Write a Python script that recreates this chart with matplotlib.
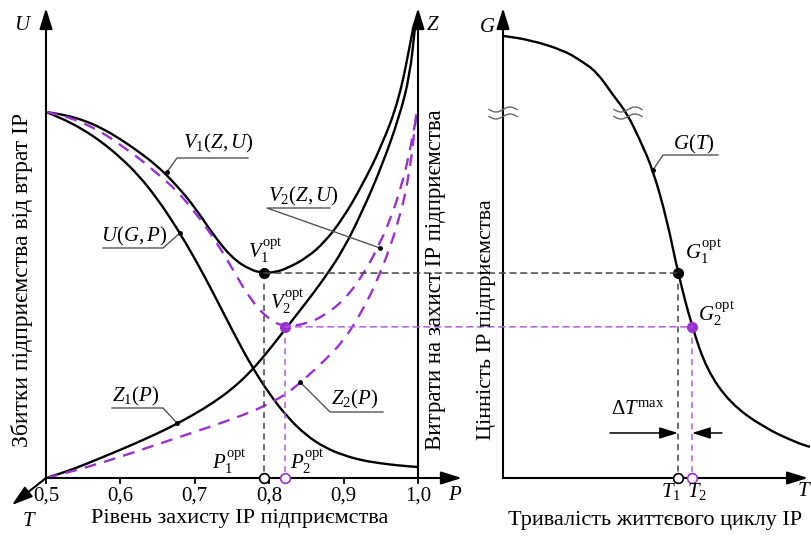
import numpy as np
import matplotlib
matplotlib.use("Agg")
import matplotlib.pyplot as plt
from matplotlib.patches import ConnectionPatch, PathPatch
from matplotlib.path import Path

plt.rcParams['font.family'] = ['Liberation Serif', 'DejaVu Serif']
plt.rcParams['mathtext.fontset'] = 'custom'
plt.rcParams['mathtext.rm'] = 'Liberation Serif'
plt.rcParams['mathtext.it'] = 'Liberation Serif:italic'
plt.rcParams['mathtext.bf'] = 'Liberation Serif:bold'

# ---- left panel: protection level P ----
p_ticks = [0.5, 0.6, 0.7, 0.8, 0.9, 1.0]
p_tick_labels = ['0,5', '0,6', '0,7', '0,8', '0,9', '1,0']

# losses U(G,P)
p_u = [0.5, 0.525, 0.55, 0.575, 0.6, 0.625, 0.65, 0.675, 0.7, 0.725, 0.75,
       0.775, 0.8, 0.825, 0.85, 0.875, 0.9, 0.925, 0.95, 0.975, 1.0]
u_vals = [1.000, 0.979, 0.952, 0.918, 0.876, 0.826, 0.762, 0.686, 0.600, 0.505,
          0.405, 0.310, 0.230, 0.165, 0.116, 0.083, 0.062, 0.048, 0.040, 0.034, 0.030]

# total V1(Z,U)
p_v1 = [0.5, 0.525, 0.55, 0.575, 0.6, 0.625, 0.65, 0.675, 0.7, 0.725, 0.75,
        0.775, 0.793, 0.81, 0.825, 0.85, 0.875, 0.9, 0.925, 0.95, 0.975, 0.993]
v1_vals = [1.000, 0.992, 0.978, 0.956, 0.926, 0.891, 0.852, 0.801, 0.740, 0.664,
           0.601, 0.568, 0.560, 0.563, 0.574, 0.601, 0.645, 0.712, 0.800, 0.902,
           1.035, 1.224]

# total V2(Z,U)
p_v2 = [0.5, 0.525, 0.55, 0.575, 0.6, 0.625, 0.65, 0.675, 0.7, 0.725, 0.75,
        0.775, 0.8, 0.821, 0.85, 0.875, 0.9, 0.925, 0.95, 0.966, 0.975, 0.985,
        0.993, 0.999]
v2_vals = [1.000, 0.989, 0.970, 0.945, 0.910, 0.874, 0.831, 0.787, 0.727, 0.658,
           0.574, 0.486, 0.432, 0.413, 0.421, 0.445, 0.485, 0.550, 0.645, 0.725,
           0.780, 0.855, 0.935, 1.000]

# protection costs Z1(P)
p_z1 = [0.5, 0.525, 0.55, 0.575, 0.6, 0.625, 0.65, 0.675, 0.7, 0.725, 0.75,
        0.775, 0.8, 0.821, 0.85, 0.875, 0.9, 0.925, 0.95, 0.975, 0.989, 0.996]
z1_vals = [0.0, 0.016, 0.035, 0.056, 0.077, 0.099, 0.122, 0.147, 0.175, 0.206,
           0.243, 0.290, 0.350, 0.405, 0.480, 0.548, 0.625, 0.728, 0.845, 0.987,
           1.100, 1.232]

# protection costs Z2(P)
p_z2 = [0.5, 0.525, 0.55, 0.575, 0.6, 0.625, 0.65, 0.675, 0.7, 0.725, 0.75,
        0.775, 0.8, 0.825, 0.85, 0.875, 0.9, 0.925, 0.95, 0.975, 0.989, 0.998]
z2_vals = [0.0, 0.013, 0.027, 0.042, 0.058, 0.075, 0.092, 0.109, 0.126, 0.143,
           0.161, 0.180, 0.203, 0.232, 0.275, 0.322, 0.375, 0.455, 0.560, 0.705,
           0.835, 1.000]

# ---- right panel: value G(T) ----
t_vals = [0.0, 0.27, 0.60, 0.77, 0.94, 1.10, 1.24, 1.37, 1.50, 1.64, 1.75, 1.89,
          2.04, 2.27, 2.60, 2.94, 3.07]
g_vals = [1.208, 1.197, 1.169, 1.142, 1.109, 1.046, 0.997, 0.923, 0.842, 0.705,
          0.560, 0.413, 0.295, 0.205, 0.139, 0.096, 0.085]

# optimum points
p1_opt, v1_opt = 0.793, 0.560
p2_opt, v2_opt = 0.821, 0.413
t1, g1_opt = 1.75, 0.560
t2, g2_opt = 1.89, 0.413

BLACK = 'black'
PURPLE = '#9932cc'
LPURPLE = '#b25fdc'
DGRAY = '#444444'
W, H = 811, 541

fig = plt.figure(figsize=(W / 100, H / 100), dpi=100)
ytop = 1.28
ax1 = fig.add_axes([46 / W, 63 / H, 372 / W, 366 * ytop / H])
ax2 = fig.add_axes([503 / W, 63 / H, 308 / W, 366 * ytop / H])
ax1.set_xlim(0.5, 1.0)
ax2.set_xlim(0, 3.08)
for ax in (ax1, ax2):
    ax.set_ylim(0, ytop)
    ax.axis('off')


def curve(ax, xs, ys, **kw):
    # smooth quadratic-bezier path through the read points
    pts = np.column_stack([xs, ys])
    verts = [pts[0], (pts[0] + pts[1]) / 2]
    codes = [Path.MOVETO, Path.LINETO]
    for i in range(1, len(pts) - 1):
        verts += [pts[i], (pts[i] + pts[i + 1]) / 2]
        codes += [Path.CURVE3, Path.CURVE3]
    verts.append(pts[-1])
    codes.append(Path.LINETO)
    ax.add_patch(PathPatch(Path(verts, codes), fill=False, clip_on=False, **kw))


arrow = dict(arrowstyle='-|>,head_length=0.9,head_width=0.28', color=BLACK,
             lw=1.5, shrinkA=0, shrinkB=0, mutation_scale=14)


def axis_arrow(ax, start, end):
    ax.annotate('', xy=end, xytext=start, arrowprops=arrow, annotation_clip=False)


axis_arrow(ax1, (0.5, 0), (0.5, 1.284))
axis_arrow(ax1, (1.0, 0), (1.0, 1.284))
axis_arrow(ax1, (0.5, 0), (1.059, 0))
axis_arrow(ax1, (0.5, 0), (0.454, -0.074))
axis_arrow(ax2, (0, 0), (0, 1.284))
axis_arrow(ax2, (0, 0), (3.05, 0))

for p in p_ticks:
    ax1.plot([p, p], [0, -0.014], color=BLACK, lw=1.3, clip_on=False)

# curves
curve(ax1, p_u, u_vals, edgecolor=BLACK, lw=1.7)
curve(ax1, p_v1, v1_vals, edgecolor=BLACK, lw=1.7)
curve(ax1, p_z1, z1_vals, edgecolor=BLACK, lw=1.7)
curve(ax1, p_v2, v2_vals, edgecolor=PURPLE, lw=1.7, ls=(0, (5, 3.5)))
curve(ax1, p_z2, z2_vals, edgecolor=PURPLE, lw=1.7, ls=(0, (5, 3.5)))
curve(ax2, t_vals, g_vals, edgecolor=BLACK, lw=1.7)

# projection lines
dash = (0, (4, 3))
ax1.plot([p1_opt, p1_opt], [v1_opt, 0], color=DGRAY, lw=1.1, ls=dash)
ax1.plot([p2_opt, p2_opt], [v2_opt, 0], color=LPURPLE, lw=1.1, ls=dash)
ax2.plot([t1, t1], [g1_opt, 0], color=DGRAY, lw=1.1, ls=dash)
ax2.plot([t2, t2], [g2_opt, 0], color=LPURPLE, lw=1.1, ls=dash)
for (pa, va, tb, gb, c) in [(p1_opt, v1_opt, t1, g1_opt, DGRAY),
                            (p2_opt, v2_opt, t2, g2_opt, LPURPLE)]:
    con = ConnectionPatch(xyA=(pa, va), coordsA=ax1.transData,
                          xyB=(tb, gb), coordsB=ax2.transData,
                          color=c, lw=1.1, ls=dash)
    fig.add_artist(con)

# points
ax1.plot(p1_opt, v1_opt, 'o', color=BLACK, ms=7, zorder=5)
ax1.plot(p2_opt, v2_opt, 'o', color=PURPLE, ms=7, zorder=5)
ax2.plot(t1, g1_opt, 'o', color=BLACK, ms=7, zorder=5)
ax2.plot(t2, g2_opt, 'o', color=PURPLE, ms=7, zorder=5)
ax1.plot(p1_opt, 0, 'o', mfc='white', mec=BLACK, mew=1.2, ms=7, zorder=5, clip_on=False)
ax1.plot(p2_opt, 0, 'o', mfc='white', mec=PURPLE, mew=1.2, ms=7, zorder=5, clip_on=False)
ax2.plot(t1, 0, 'o', mfc='white', mec=BLACK, mew=1.2, ms=7, zorder=5, clip_on=False)
ax2.plot(t2, 0, 'o', mfc='white', mec=PURPLE, mew=1.2, ms=7, zorder=5, clip_on=False)

# delta T arrows
dt_y = 0.123
small = dict(arrowstyle='-|>,head_length=0.8,head_width=0.25', color=BLACK,
             lw=1.1, shrinkA=0, shrinkB=0, mutation_scale=14)
ax2.annotate('', xy=(t1, dt_y), xytext=(1.07, dt_y), arrowprops=small)
ax2.annotate('', xy=(t2, dt_y), xytext=(2.19, dt_y), arrowprops=small)

# overlay in pixel coordinates for labels
ov = fig.add_axes([0, 0, 1, 1], zorder=10)
ov.set_xlim(0, W)
ov.set_ylim(H, 0)
ov.axis('off')
ov.patch.set_alpha(0)

FS = 15
leaders = [
    ((248, 158), (177, 158), (167, 172)),
    ((103, 248), (163, 248), (180, 233)),
    ((330, 208), (267, 208), (380, 248)),
    ((112, 408), (163, 408), (177, 423)),
    ((383, 412), (330, 412), (300, 382)),
    ((718, 155), (663, 155), (653, 170)),
]
for a, b, c in leaders:
    ov.plot([a[0], b[0], c[0]], [a[1], b[1], c[1]], color='#555555', lw=1.0)
    ov.plot(c[0], c[1], 'o', color=BLACK, ms=2.5)

labels = [
    (183, 143, r'$V_1(Z,U)$'),
    (101, 236, r'$U(G,P)$'),
    (268, 196, r'$V_2(Z,U)$'),
    (112, 396, r'$Z_1(P)$'),
    (331, 399, r'$Z_2(P)$'),
    (673, 144, r'$G(T)$'),
    (248, 251, r'$V_1^{\rm opt}$'),
    (270, 302, r'$V_2^{\rm opt}$'),
    (685, 252, r'$G_1^{\rm opt}$'),
    (698, 314, r'$G_2^{\rm opt}$'),
    (212, 462, r'$P_1^{\rm opt}$'),
    (290, 462, r'$P_2^{\rm opt}$'),
    (611, 410, r'$\Delta T^{\rm max}$'),
]
for x, y, s in labels:
    ov.text(x, y, s, fontsize=FS, ha='left', va='center')

ov.text(671, 492, r'$T_1$', fontsize=FS, ha='center', va='center')
ov.text(697, 492, r'$T_2$', fontsize=FS, ha='center', va='center')
ov.text(803, 492, 'T', fontsize=FS, style='italic', ha='center', va='center')
ov.text(22, 25, 'U', fontsize=FS, style='italic', ha='center', va='center')
ov.text(433, 25, 'Z', fontsize=FS, style='italic', ha='center', va='center')
ov.text(487, 27, 'G', fontsize=FS, style='italic', ha='center', va='center')
ov.text(454, 495, 'P', fontsize=FS, style='italic', ha='center', va='center')
ov.text(28, 521, 'T', fontsize=FS, style='italic', ha='center', va='center')

for p, lab in zip(p_ticks, p_tick_labels):
    xpx = 46 + (p - 0.5) * 744
    ov.text(xpx, 496, lab, fontsize=FS, ha='center', va='center')

ov.text(240, 519, 'Рівень захисту ІР підприємства', fontsize=16,
        ha='center', va='center')
ov.text(655, 521, 'Тривалість життєвого циклу ІР', fontsize=16,
        ha='center', va='center')
ov.text(22, 280, 'Збитки підприємства від втрат ІР', fontsize=17,
        rotation=90, ha='center', va='center')
ov.text(435, 280, 'Витрати на захист ІР підприємства', fontsize=16.5,
        rotation=90, ha='center', va='center')
ov.text(487, 320, 'Цінність ІР підприємства', fontsize=16,
        rotation=90, ha='center', va='center')

# axis break marks
xs = np.linspace(-14, 14, 30)
for cx, cy in [(503, 113), (628, 113)]:
    for off in (-3.5, 3.5):
        ov.plot(cx + xs, cy + off - 2.5 * np.sin(np.pi * xs / 14),
                color='#666666', lw=1.0)

fig.savefig('out.png', dpi=100)
